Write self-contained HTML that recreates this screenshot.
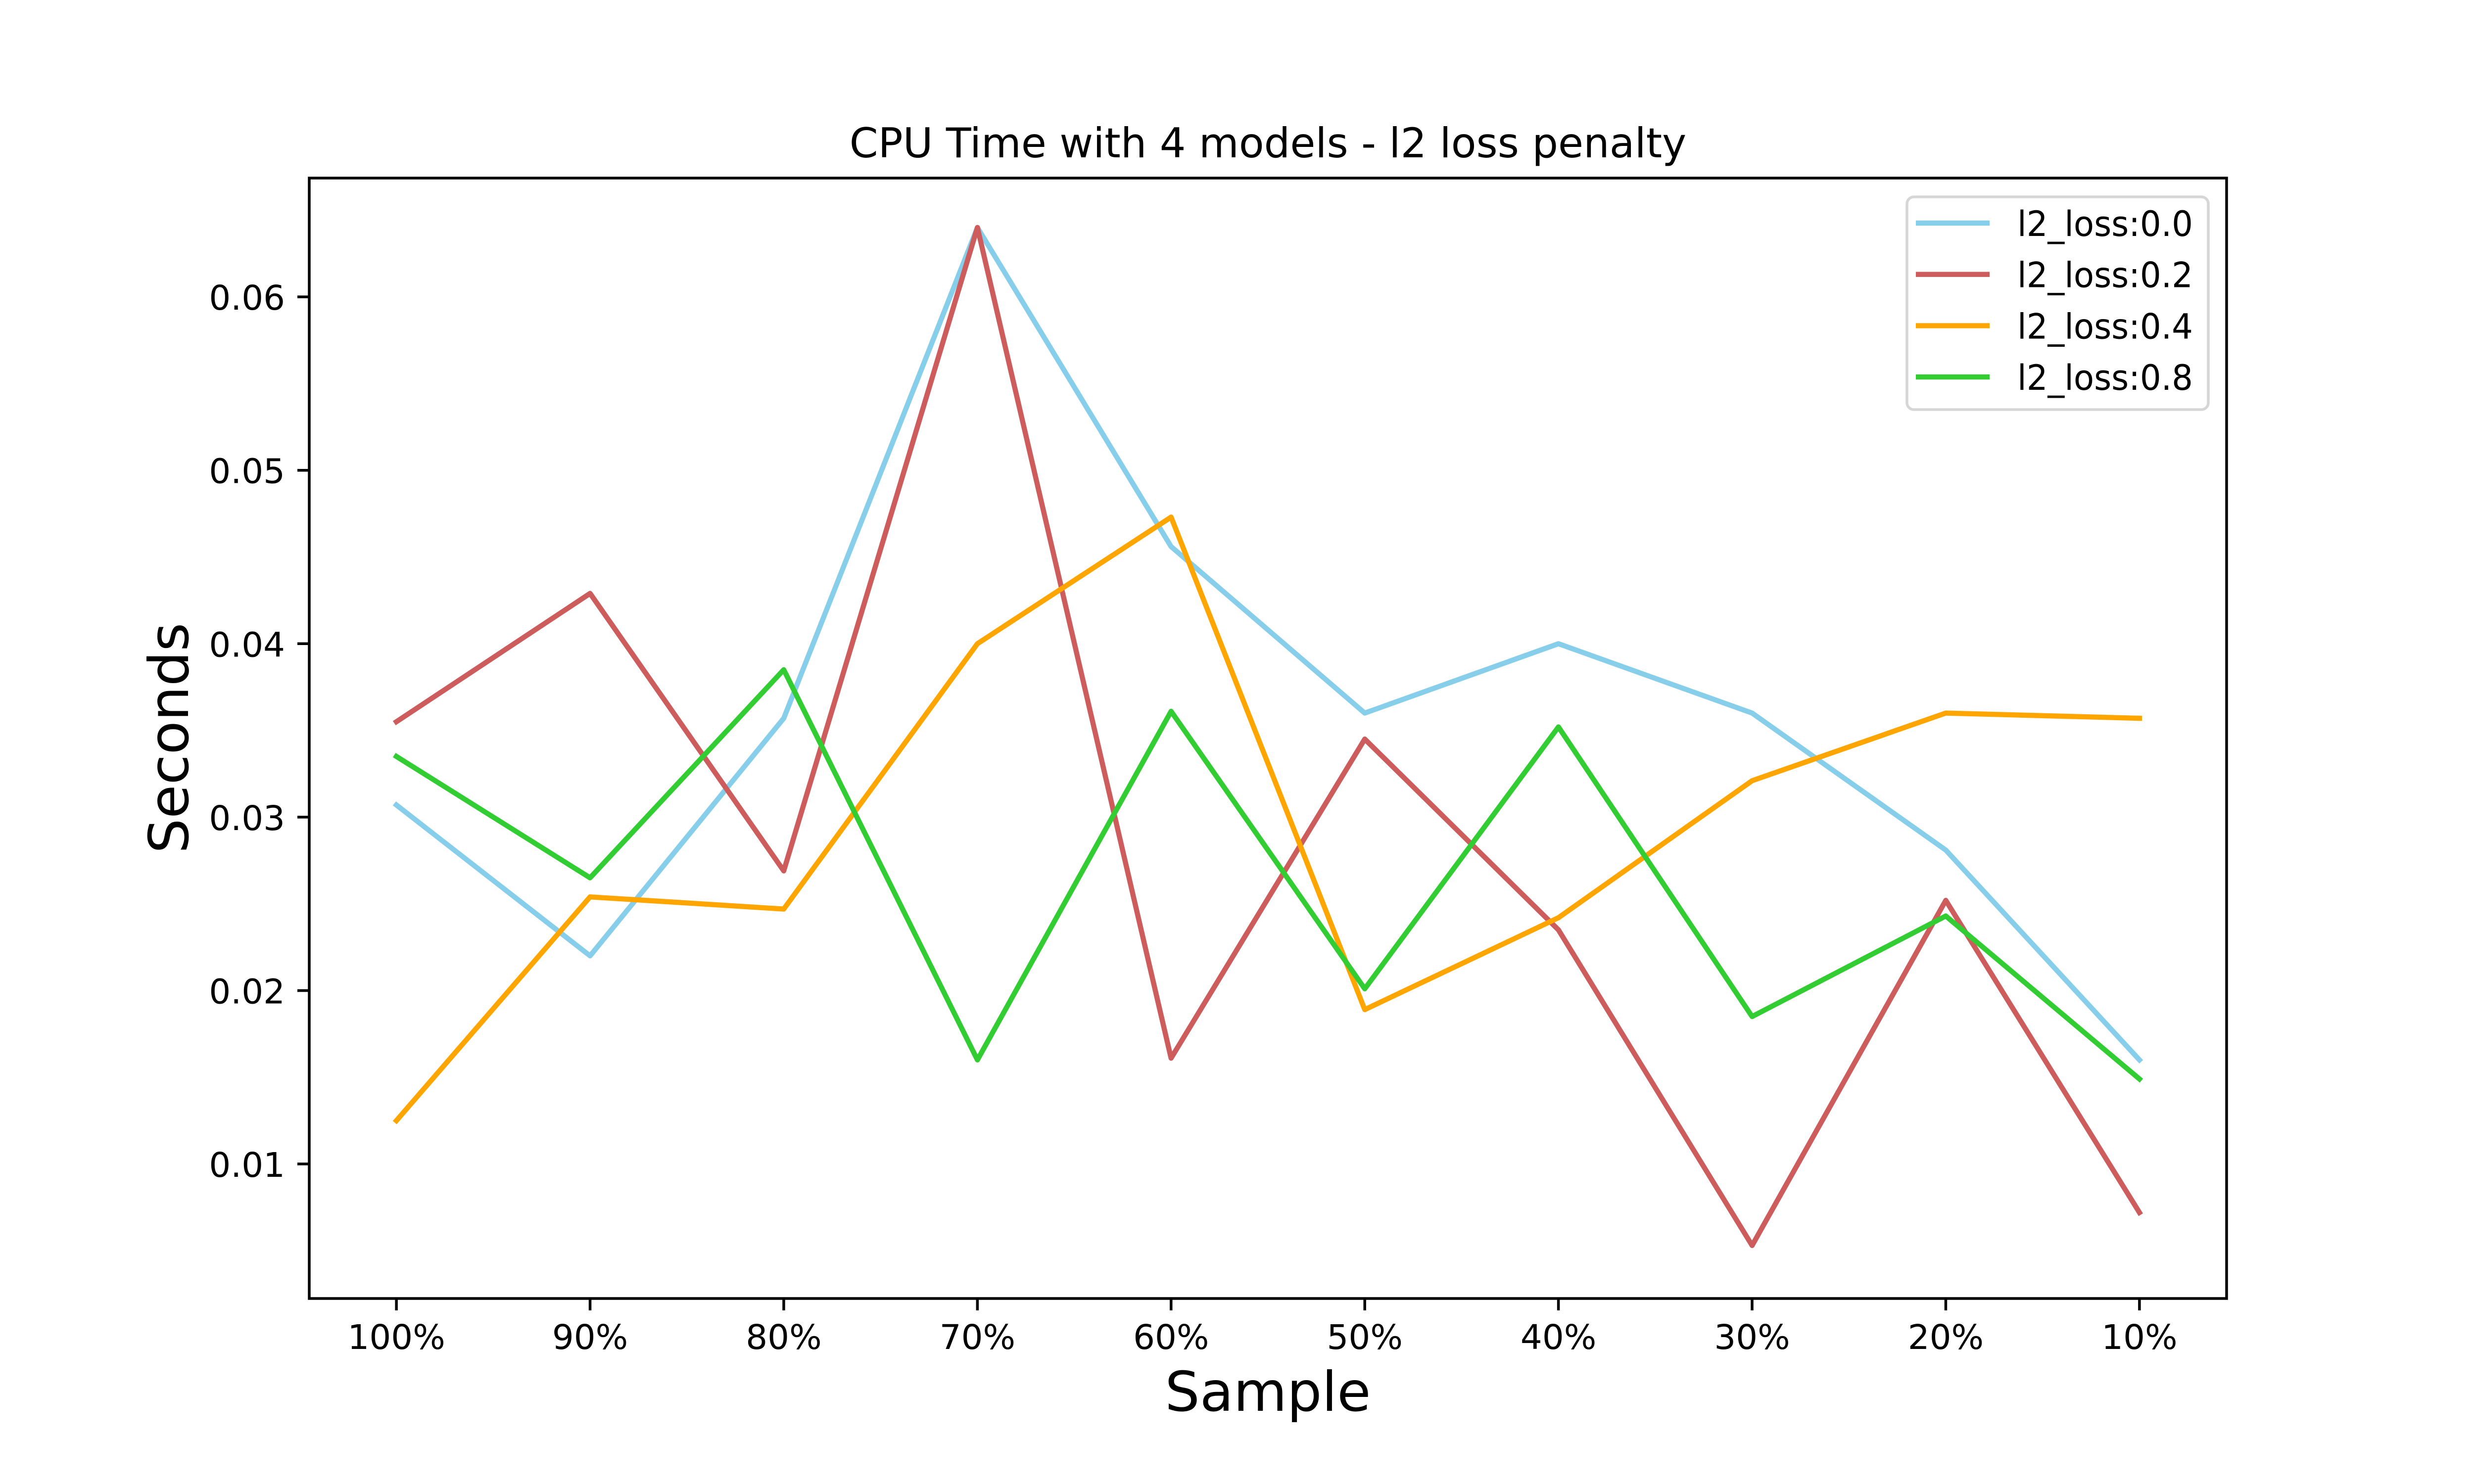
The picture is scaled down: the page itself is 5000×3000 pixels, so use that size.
<!DOCTYPE html>
<html><head><meta charset="utf-8"><style>
html,body{margin:0;padding:0;background:#fff;}
svg{display:block;font-family:"DejaVu Sans","Liberation Sans",sans-serif;}
</style></head><body>
<svg id="chart" width="5000" height="3000" viewBox="0 0 5000 3000">
<rect width="5000" height="3000" fill="#fff"/>
<g id="plot"></g>
</svg>
<script>
const categories = ["100%","90%","80%","70%","60%","50%","40%","30%","20%","10%"];
const seriesNames = ["l2_loss:0.0","l2_loss:0.2","l2_loss:0.4","l2_loss:0.8"];
const seriesColors = ["#87ceeb","#cd5c5c","#ffa500","#32cd32"];
const s00 = [0.0307,0.0220,0.0357,0.0640,0.0456,0.0360,0.0400,0.0360,0.0281,0.0160];
const s02 = [0.0355,0.0429,0.0269,0.0640,0.0161,0.0345,0.0235,0.0053,0.0252,0.0072];
const s04 = [0.0125,0.0254,0.0247,0.0400,0.0473,0.0189,0.0242,0.0321,0.0360,0.0357];
const s08 = [0.0335,0.0265,0.0385,0.0160,0.0361,0.0201,0.0352,0.0185,0.0243,0.0149];
const yTicks = [0.01,0.02,0.03,0.04,0.05,0.06];
const yTickLabels = ["0.01","0.02","0.03","0.04","0.05","0.06"];

const NS="http://www.w3.org/2000/svg";
const L=625,R=4500,T=360,B=2625;
const yMin=0.002242,yMax=0.06685;
const xStep=(R-L)/((categories.length-1)*1.1);
function xs(i){return L+0.45*xStep+i*xStep;}
function ys(v){return B-(v-yMin)/(yMax-yMin)*(B-T);}
const g=document.getElementById('plot');
function mk(tag,attrs,parent){const e=document.createElementNS(NS,tag);for(const k in attrs)e.setAttribute(k,attrs[k]);(parent||g).appendChild(e);return e;}

const all=[s00,s02,s04,s08];
all.forEach((s,si)=>{
  const p=mk('polyline',{points:s.map((v,i)=>xs(i)+','+ys(v)).join(' '),fill:'none',stroke:seriesColors[si],'stroke-width':10.4,'stroke-linejoin':'round','stroke-linecap':'square'});
  
  
});

const frame=mk('rect',{x:L,y:T,width:R-L,height:B-T,fill:'none',stroke:'#000','stroke-width':5.5});



categories.forEach((c,i)=>{
  const tk=mk('line',{x1:xs(i),x2:xs(i),y1:B,y2:B+24,stroke:'#000','stroke-width':5.5});
  
  
  const t=mk('text',{x:xs(i),y:2727,'font-size':69,'text-anchor':'middle',fill:'#000'});
  t.textContent=c;
  
  
});
yTicks.forEach((v,i)=>{
  const tk=mk('line',{x1:L-24,x2:L,y1:ys(v),y2:ys(v),stroke:'#000','stroke-width':5.5});
  
  
  const t=mk('text',{x:576,y:ys(v)+26,'font-size':69,'text-anchor':'end',fill:'#000'});
  t.textContent=yTickLabels[i];
  
  
});

const title=mk('text',{x:(L+R)/2,y:318,'font-size':83,'text-anchor':'middle',fill:'#000'});
title.textContent="CPU Time with 4 models - l2 loss penalty";


const xl=mk('text',{x:(L+R)/2,y:2852,'font-size':111,'text-anchor':'middle',fill:'#000'});
xl.textContent="Sample";


const yl=mk('text',{x:0,y:0,'font-size':111,'text-anchor':'middle',fill:'#000',transform:'translate(380,1492) rotate(-90)'});
yl.textContent="Seconds";



const lg=mk('g',{});


const lb=mk('rect',{x:3854,y:398,width:609,height:430,rx:14,fill:'#fff',stroke:'#d6d6d6','stroke-width':5.5},lg);


seriesNames.forEach((n,i)=>{
  const yy=451+i*103.7;
  const ln=mk('line',{x1:3872,x2:4021,y1:yy,y2:yy,stroke:seriesColors[i],'stroke-width':10.4},lg);
  
  
  const t=mk('text',{x:4077,y:yy+26,'font-size':70,fill:'#000',textLength:355,lengthAdjust:'spacingAndGlyphs'},lg);
  t.textContent=n;
  
  
});
</script>
</body></html>
